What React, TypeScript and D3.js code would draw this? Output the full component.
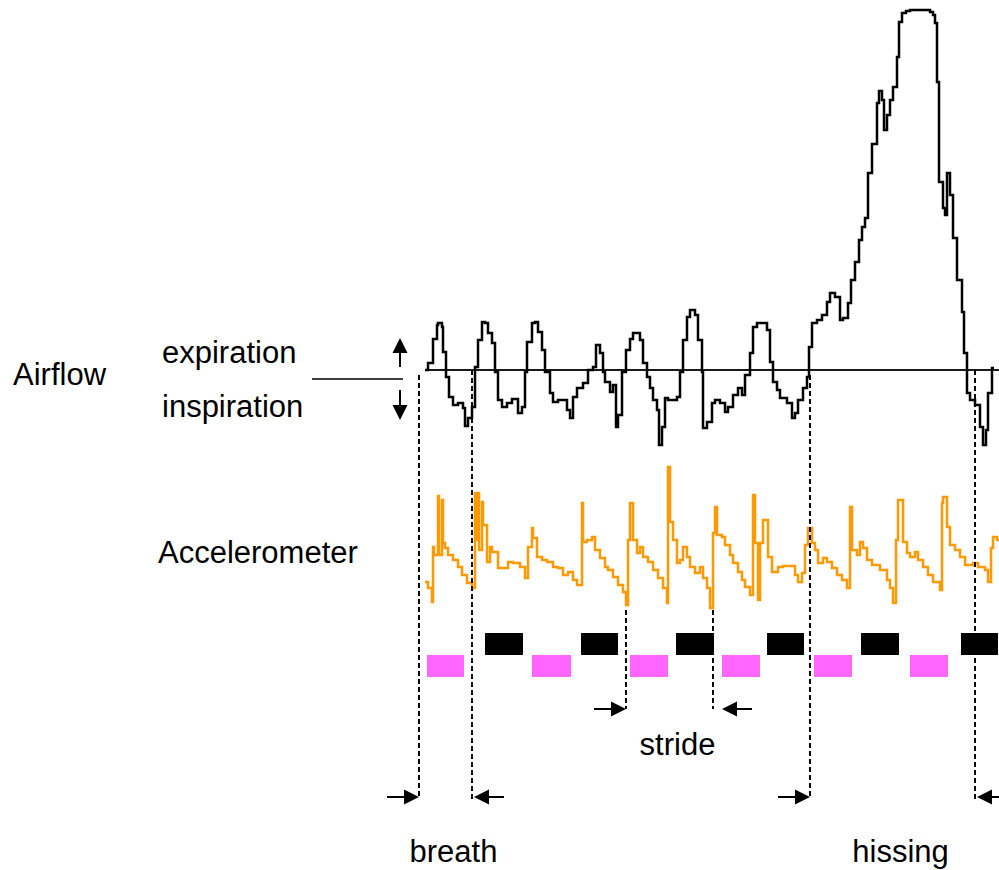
import React, { useEffect, useRef } from "react";
import * as d3 from "d3";

// airflow trace: time of each step and its level
// (0 = no flow, positive = expiration, negative = inspiration)
const airflowTime = [
  0, 3, 8, 12, 13, 17, 18, 21, 24, 28, 33, 38, 40, 43, 47, 50, 53, 57, 60, 63,
  67, 70, 73, 77, 82, 87, 93, 97, 100, 102, 107, 110, 113, 117, 120, 125, 128,
  133, 142, 145, 148, 152, 158, 163, 168, 171, 175, 178, 180, 185, 188, 191,
  193, 197, 201, 205, 208, 215, 218, 222, 225, 228, 232, 234, 237, 240, 243,
  252, 255, 258, 262, 265, 270, 273, 277, 278, 282, 287, 290, 295, 300, 303,
  308, 313, 317, 320, 325, 328, 332, 342, 345, 348, 352, 355, 362, 367, 370,
  373, 378, 382, 384, 387, 392, 397, 402, 405, 410, 415, 418, 423, 426, 430,
  434, 437, 440, 443, 447, 452, 454, 457, 459, 462, 465, 468, 472, 474, 477,
  481, 485, 505, 508, 510, 512, 514, 518, 520, 522, 525, 528, 532, 537, 539,
  542, 545, 550, 555, 558, 561, 563, 567, 569,
];
const airflowLevel = [
  0, 7, 31, 45, 47, 43, 18, -7, -27, -35, -33, -38, -56, -48, -37, 3, 30, 48,
  47, 37, 27, -2, -30, -37, -33, -29, -43, -37, -2, 28, 47, 48, 38, 20, -2,
  -23, -32, -30, -40, -48, -27, -18, -13, 0, 3, 25, 17, -2, -12, -22, -15, -57,
  -45, -2, 20, 31, 37, 30, 7, -7, -18, -30, -40, -75, -57, -28, -30, -27, -2,
  30, 53, 60, 55, 30, -2, -58, -52, -33, -30, -33, -42, -37, -25, -18, -25, -5,
  17, 43, 47, 40, 8, -12, -20, -28, -33, -48, -43, -30, -18, -7, 23, 47, 50,
  55, 68, 77, 73, 50, 52, 67, 90, 108, 130, 143, 152, 197, 226, 267, 279, 270,
  240, 255, 270, 283, 313, 348, 357, 359, 360, 358, 355, 347, 288, 188, 162,
  155, 197, 175, 132, 90, 58, 17, -23, -30, -35, -57, -75, -60, -23, 2, 2,
];

// accelerometer trace (arbitrary units)
const accelTime = [
  0, 3, 7, 8, 9, 13, 14, 17, 18, 20, 23, 28, 33, 37, 42, 47, 50, 52, 53, 54,
  57, 58, 62, 65, 67, 73, 83, 88, 95, 100, 103, 107, 108, 112, 117, 122, 128,
  133, 138, 143, 148, 152, 157, 158, 162, 167, 170, 175, 180, 183, 188, 193,
  198, 201, 203, 205, 208, 212, 215, 218, 223, 228, 233, 238, 242, 243, 245,
  248, 252, 255, 258, 262, 265, 270, 275, 278, 282, 285, 288, 290, 292, 297,
  300, 305, 308, 313, 317, 320, 325, 328, 330, 333, 335, 338, 343, 347, 353,
  358, 370, 373, 377, 380, 383, 387, 390, 393, 398, 402, 407, 412, 417, 422,
  425, 427, 432, 435, 438, 442, 447, 455, 462, 465, 468, 471, 473, 478, 482,
  485, 490, 493, 498, 503, 508, 515, 517, 518, 522, 525, 530, 535, 540, 548,
  553, 560, 563, 566, 568, 572, 574,
];
const accelLevel = [
  28, 22, 8, 63, 55, 114, 55, 110, 67, 62, 55, 50, 43, 35, 27, 22, 117, 70,
  117, 60, 108, 85, 48, 63, 58, 42, 48, 47, 43, 32, 63, 82, 72, 53, 50, 48, 43,
  42, 35, 38, 30, 25, 107, 68, 70, 73, 60, 52, 43, 40, 33, 25, 18, 5, 70, 107,
  70, 57, 63, 53, 48, 40, 32, 22, 7, 143, 88, 70, 47, 50, 63, 53, 43, 37, 43,
  32, 22, 2, 77, 103, 75, 73, 65, 55, 47, 38, 30, 23, 15, 115, 67, 10, 67, 90,
  53, 38, 43, 44, 35, 28, 37, 65, 82, 67, 60, 47, 52, 48, 42, 35, 30, 22, 103,
  60, 55, 68, 62, 50, 45, 40, 30, 22, 7, 70, 110, 68, 57, 53, 58, 50, 43, 35,
  28, 20, 107, 113, 83, 65, 60, 53, 45, 47, 43, 40, 28, 62, 73, 70, 70,
];

// footfall bars (stance of each limb)
const pinkStart = [2, 107, 205, 297, 389, 485];
const pinkEnd = [39, 146, 243, 335, 427, 523];
const blackStart = [60, 156, 251, 342, 436, 536];
const blackEnd = [98, 193, 289, 379, 474, 573];

// interval markers
const markerLabels = ["breath", "stride", "hissing"];
const markerStart = [-6, 201, 385];
const markerEnd = [47, 288, 550];

const FONT = "'Liberation Sans', Arial, sans-serif";

export default function App() {
  const ref = useRef<SVGSVGElement>(null);

  useEffect(() => {
    document.body.style.margin = "0";
    const svg = d3.select(ref.current);
    svg.selectAll("*").remove();

    const x = d3.scaleLinear().domain([-10, 574]).range([415, 999]);
    const yAir = d3.scaleLinear().domain([-90, 360]).range([460, 10]);
    const yAcc = d3.scaleLinear().domain([0, 150]).range([610, 460]);
    const yGait = d3.scaleBand().domain(["black", "pink"]).range([633, 677]);

    const arrow = (x1: number, y1: number, x2: number, y2: number) => {
      const head = 15;
      const hw = 7.5;
      const len = Math.hypot(x2 - x1, y2 - y1);
      const ux = (x2 - x1) / len;
      const uy = (y2 - y1) / len;
      const bx = x2 - ux * head;
      const by = y2 - uy * head;
      svg
        .append("line")
        .attr("x1", x1)
        .attr("y1", y1)
        .attr("x2", bx)
        .attr("y2", by)
        .attr("stroke", "#000")
        .attr("stroke-width", 2);
      svg
        .append("path")
        .attr(
          "d",
          `M${x2},${y2}L${bx - uy * hw},${by + ux * hw}L${bx + uy * hw},${by - ux * hw}Z`
        )
        .attr("fill", "#000");
    };

    const text = (s: string, tx: number, ty: number, anchor = "start") =>
      svg
        .append("text")
        .attr("x", tx)
        .attr("y", ty)
        .attr("font-family", FONT)
        .attr("font-size", 31)
        .attr("text-anchor", anchor)
        .attr("fill", "#000")
        .text(s);

    // left labels
    text("Airflow", 13, 385);
    text("expiration", 162, 363);
    text("inspiration", 162, 417);
    text("Accelerometer", 158, 563);

    svg
      .append("line")
      .attr("x1", 312)
      .attr("x2", 403)
      .attr("y1", 379)
      .attr("y2", 379)
      .attr("stroke", "#000")
      .attr("stroke-width", 1.5);
    arrow(400, 367, 400, 338);
    arrow(400, 390, 400, 420);

    // zero-flow line
    svg
      .append("line")
      .attr("x1", x(0))
      .attr("x2", x(574))
      .attr("y1", yAir(0))
      .attr("y2", yAir(0))
      .attr("stroke", "#1a1a1a")
      .attr("stroke-width", 2);

    const airLine = d3
      .line<number>()
      .x((_, i) => x(airflowTime[i]))
      .y((d) => yAir(d))
      .curve(d3.curveStepAfter);
    svg
      .append("path")
      .attr("d", airLine(airflowLevel))
      .attr("fill", "none")
      .attr("stroke", "#000")
      .attr("stroke-width", 2.5);

    const accLine = d3
      .line<number>()
      .x((_, i) => x(accelTime[i]))
      .y((d) => yAcc(d))
      .curve(d3.curveStepAfter);
    svg
      .append("path")
      .attr("d", accLine(accelLevel))
      .attr("fill", "none")
      .attr("stroke", "#ff9900")
      .attr("stroke-width", 2.5);

    // footfalls
    svg
      .append("g")
      .selectAll("rect")
      .data(pinkStart)
      .join("rect")
      .attr("x", (d) => x(d))
      .attr("width", (d, i) => x(pinkEnd[i]) - x(d))
      .attr("y", yGait("pink")!)
      .attr("height", yGait.bandwidth())
      .attr("fill", "#ff66ff");
    svg
      .append("g")
      .selectAll("rect")
      .data(blackStart)
      .join("rect")
      .attr("x", (d) => x(d))
      .attr("width", (d, i) => x(blackEnd[i]) - x(d))
      .attr("y", yGait("black")!)
      .attr("height", yGait.bandwidth())
      .attr("fill", "#000");

    // interval markers: dashed guides, arrows and labels
    markerLabels.forEach((label, i) => {
      const isStride = label === "stride";
      const top = isStride ? yAcc(0) : yAir(0);
      const bottom = isStride ? 709 : 799;
      const x0 = x(markerStart[i]);
      const x1 = x(markerEnd[i]);
      [x0, x1].forEach((xx, k) => {
        svg
          .append("line")
          .attr("x1", xx)
          .attr("x2", xx)
          .attr("y1", k === 0 && !isStride ? top + 5 : top)
          .attr("y2", bottom)
          .attr("stroke", "#000")
          .attr("stroke-width", 2)
          .attr("stroke-dasharray", "5,3");
      });
      const ay = isStride ? 709 : 797;
      const gap = isStride ? 9 : 2;
      arrow(x0 - 32, ay, x0, ay);
      arrow(x1 + gap + 30, ay, x1 + gap, ay);
      text(label, (x0 + x1) / 2 + 8, isStride ? 755 : 862, "middle");
    });
  }, []);

  return <svg ref={ref} width={999} height={870} style={{ display: "block" }} />;
}
